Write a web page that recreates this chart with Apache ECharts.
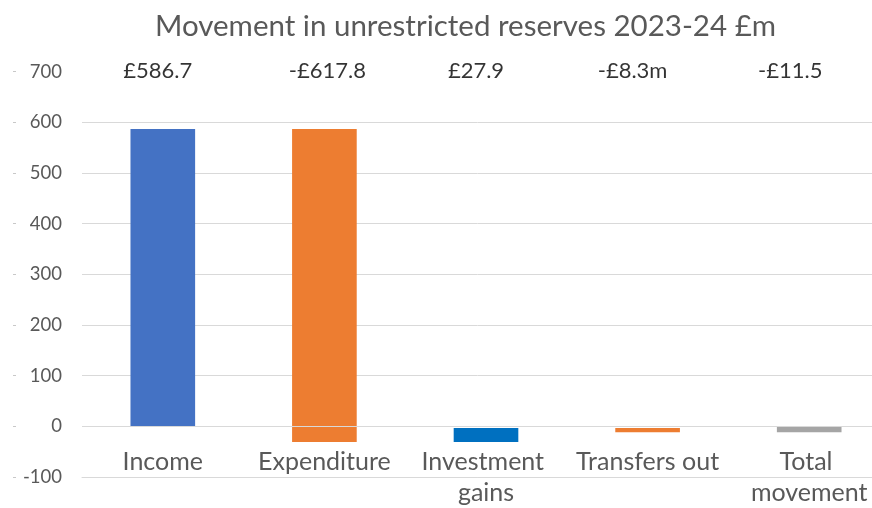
<!DOCTYPE html>
<html>
<head>
<meta charset="utf-8">
<script src="https://cdn.jsdelivr.net/npm/echarts@6/dist/echarts.min.js"></script>
<style>
  html, body { margin: 0; padding: 0; background: #fff; }
  #chart { width: 872px; height: 508px; }
</style>
</head>
<body>
<div id="chart"></div>
<script>
// Waterfall of unrestricted reserves, 2023-24 (£m)
const categories = ['Income', 'Expenditure', 'Investment gains', 'Transfers out', 'Total movement'];
const movements = [586.7, -617.8, 27.9, -8.3, -11.5];
const isTotal = [false, false, false, false, true];
const valueLabels = ['£586.7', '-£617.8', '£27.9', '-£8.3m', '-£11.5'];
const barColors = ['#4472C4', '#ED7D31', '#0070C0', '#ED7D31', '#A5A5A5'];
const yTicks = { min: -100, max: 700, interval: 100 };

// running totals -> floating segments [index, start, end]
const segments = [];
let running = 0;
movements.forEach((v, i) => {
  if (isTotal[i]) {
    segments.push([i, 0, v]);
  } else {
    segments.push([i, running, running + v]);
    running += v;
  }
});

// horizontal nudges for the value labels along the top row
const labelShift = [-5, 3, -10, -15, -19];

const FONT = 'Lato, "Open Sans", sans-serif';
const GRID_LINE = '#D9D9D9';
const chart = echarts.init(document.getElementById('chart'), null, { renderer: 'canvas' });

chart.setOption({
  animation: false,
  backgroundColor: '#fff',
  title: {
    text: 'Movement in unrestricted reserves 2023-24 £m',
    left: 460.5,
    textAlign: 'center',
    top: 6,
    textStyle: { fontFamily: FONT, fontSize: 29.5, fontWeight: 'normal', color: '#595959' }
  },
  grid: { left: 82, top: 71.7, width: 808, height: 405.3, outerBoundsMode: 'none', containLabel: false },
  xAxis: {
    type: 'category',
    data: categories,
    z: 10,
    axisLine: { show: true, onZero: false, lineStyle: { color: GRID_LINE, width: 1 } },
    axisTick: { show: false },
    // category names sit just under the zero line, as in a waterfall
    axisLabel: {
      fontFamily: FONT, fontSize: 25, color: '#595959',
      margin: -31, lineHeight: 31, width: 158, overflow: 'break', interval: 0
    },
    splitLine: { show: false }
  },
  yAxis: [
    {
      type: 'value',
      min: yTicks.min, max: yTicks.max, interval: yTicks.interval,
      axisLine: { show: false },
      axisTick: { show: false },
      axisLabel: { fontFamily: FONT, fontSize: 18.5, color: '#595959', margin: 20 },
      splitLine: { show: true, showMaxLine: false, lineStyle: { color: GRID_LINE, width: 1 } }
    },
    {
      type: 'value',
      position: 'left',
      offset: 66,
      min: yTicks.min, max: yTicks.max, interval: yTicks.interval,
      axisLine: { show: false },
      axisTick: { show: true, length: 3, lineStyle: { color: '#C8C8C8' } },
      axisLabel: { show: false },
      splitLine: { show: false }
    }
  ],
  series: [
    {
      type: 'custom',
      xAxisIndex: 0,
      yAxisIndex: 0,
      data: segments,
      encode: { x: 0, y: [1, 2] },
      renderItem: function (params, api) {
        const idx = api.value(0);
        const p0 = api.coord([idx, api.value(1)]);
        const p1 = api.coord([idx, api.value(2)]);
        const w = api.size([1, 0])[0] * 0.4;
        const top = Math.min(p0[1], p1[1]);
        const h = Math.abs(p1[1] - p0[1]);
        return {
          type: 'rect',
          shape: { x: p0[0] - w / 2, y: top, width: w, height: h },
          style: { fill: barColors[idx] }
        };
      }
    },
    {
      type: 'scatter',
      yAxisIndex: 0,
      symbolSize: 0,
      silent: true,
      data: categories.map((c, i) => ({
        value: [c, yTicks.max],
        label: { offset: [labelShift[i], -1] }
      })),
      label: {
        show: true,
        position: 'inside',
        fontFamily: FONT, fontSize: 22, color: '#000',
        formatter: p => valueLabels[p.dataIndex]
      },
      // zero baseline drawn across the bars
      markLine: {
        silent: true,
        symbol: 'none',
        label: { show: false },
        lineStyle: { color: GRID_LINE, width: 1, type: 'solid' },
        data: [{ yAxis: 0 }]
      }
    }
  ]
});
</script>
</body>
</html>
